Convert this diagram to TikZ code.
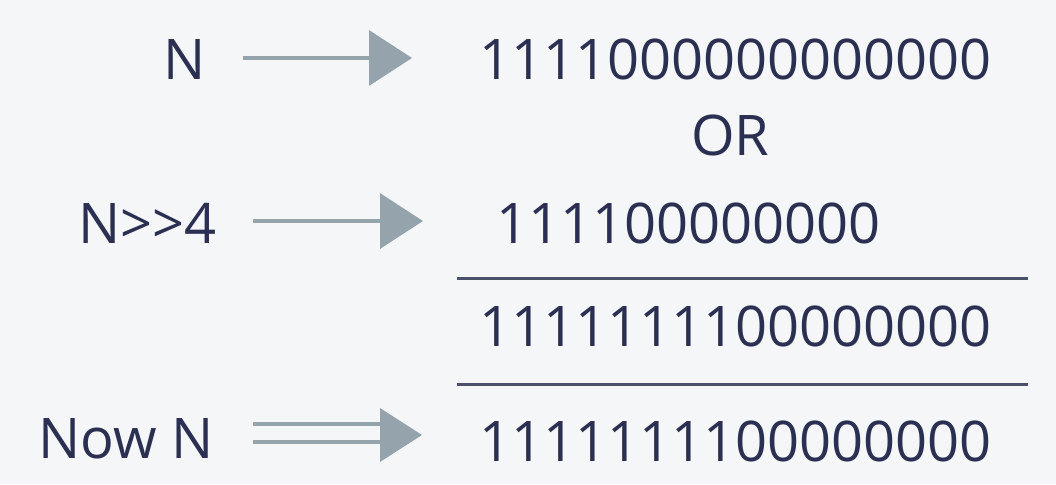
\documentclass[tikz,border=0pt]{standalone}
\usepackage{fontspec}
\setmainfont{Open Sans}
\usetikzlibrary{arrows.meta}
\definecolor{bg}{HTML}{F5F6F8}
\definecolor{txt}{HTML}{2B3052}
\definecolor{arr}{HTML}{95A4AC}
\definecolor{rule}{HTML}{4A5068}
\tikzset{
  lbl/.style={anchor=base west, inner sep=0pt, text=txt, font=\fontsize{56}{60}\selectfont},
  conn/.style={draw=arr, line width=3.5pt, -{Triangle[length=43pt,width=55pt]}},
  sumrule/.style={draw=rule, line width=3pt}
}
\begin{document}
\begin{tikzpicture}[x=1pt,y=-1pt]
\fill[bg] (0,0) rectangle (1056,484);
\useasboundingbox (0,0) rectangle (1056,484);
% left labels
\node[lbl] (n1) at (163,80) {N};
\node[lbl] (n2) at (78,243) {N>{}>4};
\node[lbl] (n3) at (38,458) {Now N};
% right values
\node[lbl] (v1) at (479,80) {1111000000000000};
\node[lbl] (or) at (691,155) {OR};
\node[lbl] (v2) at (496,243) {111100000000};
\node[lbl] (v3) at (479,346) {1111111100000000};
\node[lbl] (v4) at (479,461) {1111111100000000};
% connectors
\coordinate (a1s) at (243,58);
\coordinate (a1e) at (412,58);
\coordinate (a2s) at (253,221);
\coordinate (a2e) at (423,221);
\coordinate (a3s) at (253,433);
\coordinate (a3b) at (381,433);
\draw[conn] (a1s) -- (a1e);
\draw[conn] (a2s) -- (a2e);
\draw[draw=arr, line width=3.5pt, double=bg, double distance=14.5pt] (a3s) -- (a3b);
\fill[arr] (380,408) -- (422,435) -- (380,462) -- cycle;
% rules
\coordinate (r1a) at (457,278);
\coordinate (r1b) at (1028,278);
\coordinate (r2a) at (457,384);
\coordinate (r2b) at (1028,384);
\draw[sumrule] (r1a) -- (r1b);
\draw[sumrule] (r2a) -- (r2b);
\end{tikzpicture}
\end{document}
